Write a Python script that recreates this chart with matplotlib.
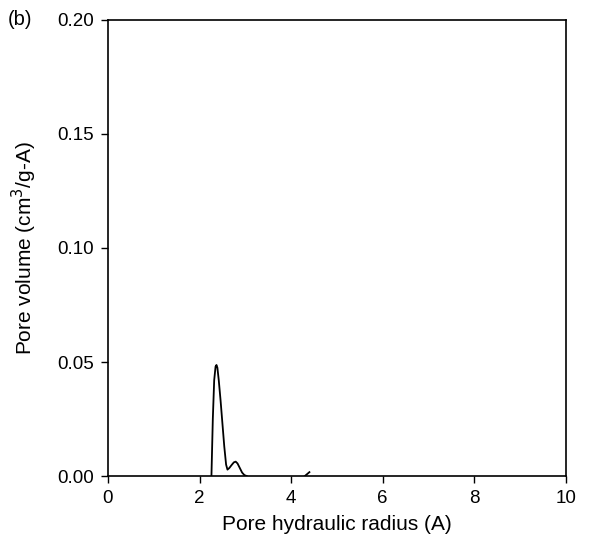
import matplotlib
matplotlib.use("Agg")
import matplotlib.pyplot as plt

plt.rcParams['font.family'] = ['Liberation Sans', 'DejaVu Sans']

radius_main = [2.26, 2.29, 2.32, 2.35, 2.37, 2.39, 2.42, 2.46, 2.50, 2.54, 2.58, 2.61, 2.65, 2.70, 2.75, 2.79, 2.83, 2.88, 2.93, 2.98, 3.03]
volume_main = [0.0, 0.025, 0.042, 0.0480, 0.0487, 0.0475, 0.042, 0.033, 0.023, 0.013, 0.005, 0.0028, 0.0035, 0.0048, 0.0060, 0.0063, 0.0055, 0.0035, 0.0015, 0.0004, 0.0]
radius_small = [4.30, 4.40]
volume_small = [0.0, 0.0017]

xticks = [0, 2, 4, 6, 8, 10]
yticks = [0.00, 0.05, 0.10, 0.15, 0.20]

fig = plt.figure(figsize=(5.9, 5.4), dpi=100)
ax = fig.add_axes([0.183, 0.1185, 0.776, 0.8445])
ax.plot(radius_main, volume_main, color='black', lw=1.3)
ax.plot(radius_small, volume_small, color='black', lw=1.3)
ax.set_xlim(0, 10)
ax.set_ylim(0, 0.2)
ax.set_xticks(xticks)
ax.set_yticks(yticks)
ax.set_xticklabels([str(t) for t in xticks])
ax.set_yticklabels([f"{t:.2f}" for t in yticks])
ax.tick_params(direction='out', length=5, width=1, labelsize=13.5, pad=5)
for s in ax.spines.values():
    s.set_linewidth(1.2)
ax.set_xlabel('Pore hydraulic radius (A)', fontsize=15, labelpad=6)
ax.set_ylabel('Pore volume (cm$^3$/g-A)', fontsize=15, labelpad=13)
fig.text(0.0136, 0.963, '(b)', fontsize=14.5, va='center', ha='left')
fig.savefig('out.png', dpi=100)
